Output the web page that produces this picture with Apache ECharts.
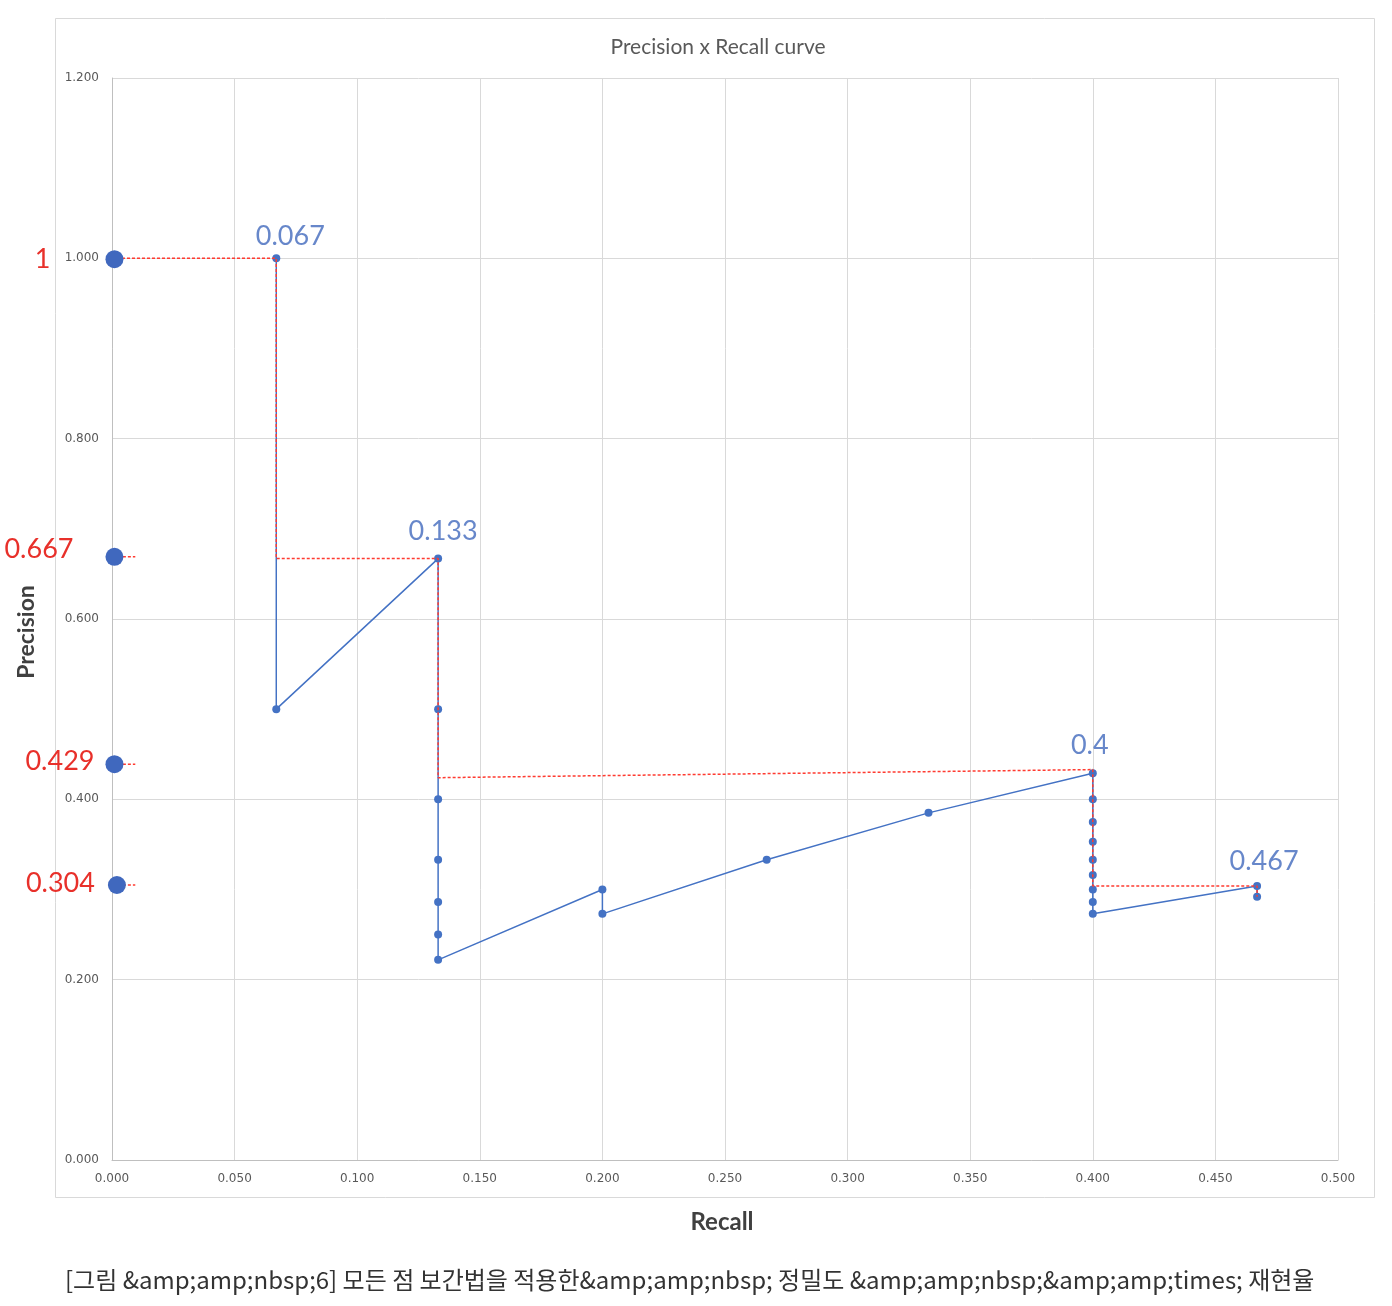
<!DOCTYPE html>
<html>
<head>
<meta charset="utf-8">
<title>Precision x Recall curve</title>
<script src="https://cdn.jsdelivr.net/npm/echarts@6/dist/echarts.min.js"></script>
<style>
  html, body { margin: 0; padding: 0; background: #fff; }
  #chart { width: 1392px; height: 1306px; }
</style>
</head>
<body>
<div id="chart"></div>
<script>
// 정밀도 x 재현율 (모든 점 보간)
const recall = [0.067, 0.067, 0.133, 0.133, 0.133, 0.133, 0.133, 0.133, 0.133, 0.2, 0.2, 0.267, 0.333,
  0.4, 0.4, 0.4, 0.4, 0.4, 0.4, 0.4, 0.4, 0.4, 0.467, 0.467];
const precision = [1, 0.5, 0.667, 0.5, 0.4, 0.333, 0.286, 0.25, 0.222, 0.3, 0.273, 0.333, 0.385,
  0.429, 0.4, 0.375, 0.353, 0.333, 0.316, 0.3, 0.286, 0.273, 0.304, 0.292];

// 보간 선 (빨간 점선)
const interpRecall = [0, 0.067, 0.067, 0.133, 0.133, 0.4, 0.4, 0.467, 0.467];
const interpPrecision = [1, 1, 0.667, 0.667, 0.424, 0.433, 0.304, 0.304, 0.292];

// y축 위의 보간 값 (그림에서 읽은 위치)
const anchorRecall = [0.001, 0.001, 0.001, 0.002];
const anchorPrecision = [0.999, 0.669, 0.439, 0.305];
const anchorLabels = ['1', '0.667', '0.429', '0.304'];

// 재현율 값 표시
const calloutRecall = [0.067, 0.133, 0.4, 0.467];
const calloutPrecision = [1, 0.667, 0.429, 0.304];
const calloutLabels = ['0.067', '0.133', '0.4', '0.467'];

const BLUE = '#4472C4';
const RED = '#ff3b30';
const RED_TEXT = '#e8302a';
const FONT = 'Lato, "Noto Sans", sans-serif';

const anchorDist = [55, 32, 11, 13];
const anchorOff = [[0, 0], [0, -7], [0, -3], [0, -2]];
const calloutOff = [[14, -2], [5, -7], [-3, -8], [7, -5]];

const chart = echarts.init(document.getElementById('chart'));

// 축 옆 짧은 빨간 점선
let tickSeries = anchorPrecision.slice(1).map(function(p) {
    return {
        type: 'line',
        data: [[-0.0078, p], [0.0095, p]],
        symbol: 'none',
        clip: false,
        silent: true,
        z: 3,
        lineStyle: { color: RED, width: 1.5, type: [3, 2] }
    };
});

const option = {
    animation: false,
    backgroundColor: '#fff',
    title: {
        text: 'Precision x Recall curve',
        left: 713,
        top: 32,
        textAlign: 'center',
        textStyle: { fontFamily: FONT, fontSize: 21, fontWeight: 'normal', color: '#595959' }
    },
    grid: { left: 112, right: 54, top: 78, bottom: 146, containLabel: false },
    xAxis: {
        type: 'value',
        min: 0,
        max: 0.5,
        interval: 0.05,
        axisLine: { show: true, lineStyle: { color: '#bfbfbf', width: 1 } },
        axisTick: { show: false },
        splitLine: { show: true, lineStyle: { color: '#d9d9d9', width: 1 } },
        axisLabel: {
            margin: 13,
            fontFamily: 'DejaVu Sans, sans-serif',
            fontSize: 12,
            color: '#595959',
            formatter: function(v) { return v.toFixed(3); }
        }
    },
    yAxis: {
        type: 'value',
        min: 0,
        max: 1.2,
        interval: 0.2,
        axisLine: { show: true, lineStyle: { color: '#bfbfbf', width: 1 } },
        axisTick: { show: false },
        splitLine: { show: true, lineStyle: { color: '#d9d9d9', width: 1 } },
        axisLabel: {
            margin: 13,
            fontFamily: 'DejaVu Sans, sans-serif',
            fontSize: 12,
            color: '#595959',
            formatter: function(v) { return v.toFixed(3); }
        }
    },
    graphic: [
        {
            type: 'rect',
            z: -1,
            silent: true,
            shape: { x: 55.5, y: 18.5, width: 1319, height: 1179 },
            style: { fill: 'none', stroke: '#d9d9d9', lineWidth: 1 }
        },
        {
            type: 'text',
            x: 27,
            y: 632,
            rotation: Math.PI / 2,
            style: {
                text: 'Precision',
                fontFamily: FONT,
                fontSize: 23,
                fontWeight: 'bold',
                fill: '#404040',
                align: 'center',
                verticalAlign: 'middle'
            }
        },
        {
            type: 'text',
            x: 722,
            y: 1222,
            style: {
                text: 'Recall',
                fontFamily: FONT,
                fontSize: 24,
                fontWeight: 'bold',
                fill: '#404040',
                align: 'center',
                verticalAlign: 'middle'
            }
        },
        {
            type: 'text',
            x: 65,
            y: 1280,
            style: {
                text: '[그림 &amp;amp;nbsp;6] 모든 점 보간법을 적용한&amp;amp;nbsp; 정밀도 &amp;amp;nbsp;&amp;amp;times; 재현율',
                fontFamily: '"Noto Sans CJK KR", sans-serif',
                fontSize: 24,
                fill: '#333333',
                align: 'left',
                verticalAlign: 'middle'
            }
        }
    ],
    series: [
        {
            name: 'curve',
            type: 'line',
            data: recall.map((r, i) => [r, precision[i]]),
            symbol: 'circle',
            symbolSize: 8,
            z: 2,
            itemStyle: { color: BLUE },
            lineStyle: { color: BLUE, width: 1.5 }
        },
        {
            name: 'interpolated',
            type: 'line',
            data: interpRecall.map((r, i) => [r, interpPrecision[i]]),
            symbol: 'none',
            z: 3,
            lineStyle: { color: RED, width: 1.5, type: [3, 2] }
        }
    ].concat(tickSeries).concat([
        {
            name: 'anchors',
            type: 'scatter',
            clip: false,
            symbolSize: 18,
            z: 4,
            itemStyle: { color: '#4068be', opacity: 1 },
            data: anchorPrecision.map((p, i) => ({
                value: [anchorRecall[i], p],
                label: {
                    show: true,
                    position: 'left',
                    distance: anchorDist[i],
                    offset: anchorOff[i],
                    formatter: anchorLabels[i],
                    fontFamily: FONT,
                    fontSize: 27,
                    color: RED_TEXT
                }
            }))
        },
        {
            name: 'callouts',
            type: 'scatter',
            symbolSize: 1,
            z: 5,
            itemStyle: { color: 'rgba(0,0,0,0)' },
            data: calloutRecall.map((r, i) => ({
                value: [r, calloutPrecision[i]],
                label: {
                    show: true,
                    position: 'top',
                    distance: 6,
                    offset: calloutOff[i],
                    formatter: calloutLabels[i],
                    fontFamily: FONT,
                    fontSize: 27,
                    color: '#4169bd'
                }
            }))
        }
    ])
};

chart.setOption(option);
</script>
</body>
</html>
